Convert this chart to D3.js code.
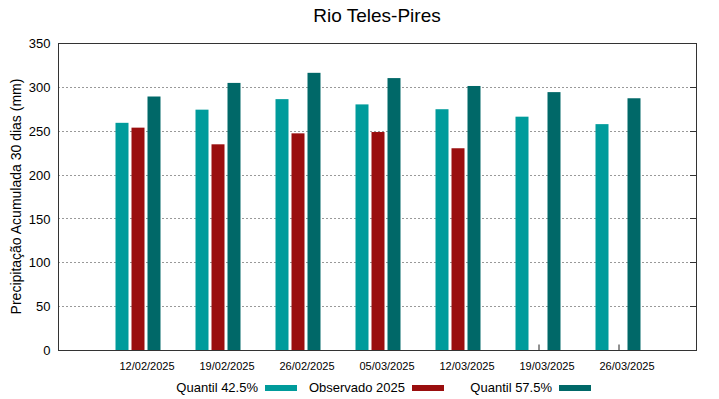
<!DOCTYPE html>
<html>
  <script src="https://cdn.jsdelivr.net/npm/d3@7"></script>
  <style>
    body{ margin: 0; background: #fff; }
    text{ font-family: "Liberation Sans", Arial, sans-serif; }
  </style>
  <body>
    <script>

var dates = ['12/02/2025','19/02/2025','26/02/2025','05/03/2025','12/03/2025','19/03/2025','26/03/2025']
  , q425 = [259, 274, 286, 280, 274.5, 266, 257.5]
  , obs2025 = [253.5, 234.5, 247, 248.5, 230, null, null]
  , q575 = [289, 304.5, 316, 310, 301, 294, 287]
  , yTicks = [0, 50, 100, 150, 200, 250, 300, 350]
  , seriesNames = ['Quantil 42.5%', 'Observado 2025', 'Quantil 57.5%']
  , colors = ['#009b9b', '#9a0e0e', '#006868']

var W = 719, H = 399
  , m = {l: 58, r: 23, t: 43, b: 49}

var svg = d3.select('body').append('svg').attr('width', W).attr('height', H)

var x = d3.scaleLinear().domain([-1, 7]).range([m.l, W - m.r + 2])
  , y = d3.scaleLinear().domain([0, 350]).range([H - m.b, m.t])

// grid
svg.append('g').selectAll('line').data(yTicks.slice(1, -1)).join('line')
  .attr('x1', m.l).attr('x2', W - m.r)
  .attr('y1', function(d){ return Math.round(y(d)) + 0.5 })
  .attr('y2', function(d){ return Math.round(y(d)) + 0.5 })
  .attr('stroke', '#999').attr('stroke-dasharray', '2,2').attr('stroke-width', 1)

// x axis (under the bars, so the ticks hide behind them)
var xAxis = svg.append('g').attr('transform', 'translate(0.5,' + (H - m.b + 0.5) + ')')
  .call(d3.axisBottom(x).tickValues(d3.range(dates.length)).tickSize(-6)
    .tickFormat(function(i){ return dates[i] }).tickPadding(12))
xAxis.select('.domain').remove()
xAxis.selectAll('line').attr('stroke', '#222')
xAxis.selectAll('text').attr('font-size', 11).attr('fill', '#000').attr('dx', 8)
  .style('font-family', '"Liberation Sans", Arial, sans-serif')

// bars
var series = [q425, obs2025, q575]
  , barW = 13, step = 16

series.forEach(function(vals, s){
  svg.append('g').selectAll('rect')
    .data(vals.map(function(v, i){ return {v: v, i: i} }).filter(function(d){ return d.v != null }))
    .join('rect')
    .attr('x', function(d){ return x(d.i) + (s - 1) * step - barW / 2 })
    .attr('width', barW)
    .attr('y', function(d){ return y(d.v) })
    .attr('height', function(d){ return y(0) - y(d.v) })
    .attr('fill', colors[s])
})

// frame
svg.append('rect').attr('x', m.l + 0.5).attr('y', m.t + 0.5)
  .attr('width', W - m.r - m.l).attr('height', H - m.b - m.t)
  .attr('fill', 'none').attr('stroke', '#333').attr('stroke-width', 1)

// y axis
var yAxis = svg.append('g').attr('transform', 'translate(' + (m.l + 0.5) + ',0.5)')
  .call(d3.axisLeft(y).tickValues(yTicks).tickSize(0).tickPadding(8))
yAxis.select('.domain').remove()
yAxis.selectAll('text').attr('font-size', 13).attr('fill', '#000')
  .style('font-family', '"Liberation Sans", Arial, sans-serif')

// right mirror ticks
svg.append('g').selectAll('line').data(yTicks).join('line')
  .attr('x1', W - m.r - 6).attr('x2', W - m.r)
  .attr('y1', function(d){ return Math.round(y(d)) + 0.5 })
  .attr('y2', function(d){ return Math.round(y(d)) + 0.5 })
  .attr('stroke', '#333')

// title
svg.append('text').attr('x', 377).attr('y', 22).attr('text-anchor', 'middle')
  .attr('font-size', 19).text('Rio Teles-Pires')

// y label
svg.append('text').attr('transform', 'translate(21,' + ((m.t + H - m.b) / 2) + ') rotate(-90)')
  .attr('text-anchor', 'middle').attr('font-size', 14).text('Precipitação Acumulada 30 dias (mm)')

// legend
var legX = [258, 405, 552]
seriesNames.forEach(function(n, s){
  svg.append('text').attr('x', legX[s]).attr('y', 392).attr('text-anchor', 'end')
    .attr('font-size', 13).text(n)
  svg.append('rect').attr('x', legX[s] + 7).attr('y', 385).attr('width', 32).attr('height', 6)
    .attr('fill', colors[s])
})

    </script>
  </body>
</html>
